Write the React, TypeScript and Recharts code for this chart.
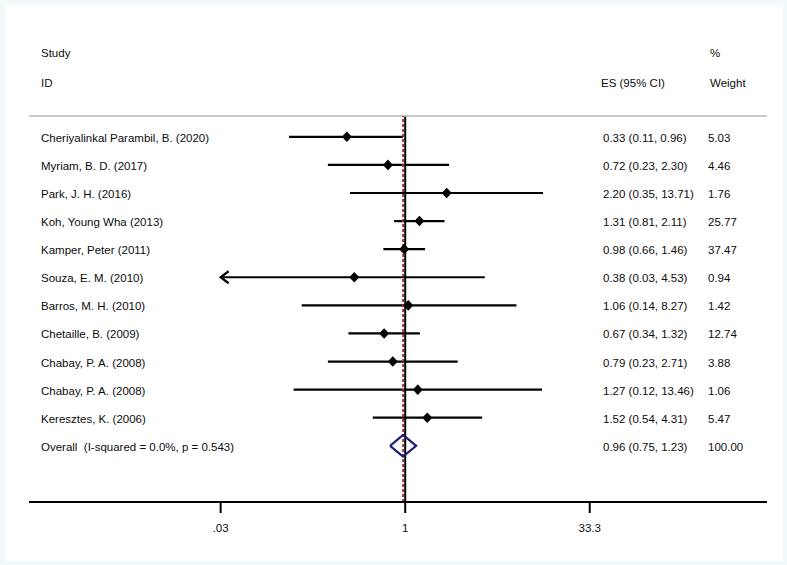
import React from 'react';
import { ComposedChart, XAxis, YAxis, Scatter, ReferenceLine } from 'recharts';

// ---------- data ----------
const studies = [
  'Cheriyalinkal Parambil, B. (2020)',
  'Myriam, B. D. (2017)',
  'Park, J. H. (2016)',
  'Koh, Young Wha (2013)',
  'Kamper, Peter (2011)',
  'Souza, E. M. (2010)',
  'Barros, M. H. (2010)',
  'Chetaille, B. (2009)',
  'Chabay, P. A. (2008)',
  'Chabay, P. A. (2008)',
  'Keresztes, K. (2006)',
];
const es = [0.33, 0.72, 2.2, 1.31, 0.98, 0.38, 1.06, 0.67, 0.79, 1.27, 1.52];
const lower = [0.11, 0.23, 0.35, 0.81, 0.66, 0.03, 0.14, 0.34, 0.23, 0.12, 0.54];
const upper = [0.96, 2.3, 13.71, 2.11, 1.46, 4.53, 8.27, 1.32, 2.71, 13.46, 4.31];
const weights = [5.03, 4.46, 1.76, 25.77, 37.47, 0.94, 1.42, 12.74, 3.88, 1.06, 5.47];

const overallLabel = 'Overall  (I-squared = 0.0%, p = 0.543)';
const overallES = 0.96;
const overallLower = 0.75;
const overallUpper = 1.23;
const overallWeight = 100.0;

const xTicks = [0.03, 1, 33.3];
const xTickLabels = ['.03', '1', '33.3'];

// ---------- styling constants ----------
const FONT = '"Liberation Sans", Arial, Helvetica, sans-serif';
const FS = 11.5;
const TXT = '#0d0d0d';
const W = 787;
const H = 565;
const DIAMOND_HALF_ROWS = 0.385;

// ---------- derived tables ----------
const fmt = (v: number) => v.toFixed(2);

type Row = {
  x: number;
  y: number;
  lo: number;
  hi: number;
  label: string;
  esText: string;
  wText: string;
  kind: 'study' | 'overall';
};

const studyRows: Row[] = studies.map((s, i) => ({
  x: es[i],
  y: i,
  lo: lower[i],
  hi: upper[i],
  label: s,
  esText: `${fmt(es[i])} (${fmt(lower[i])}, ${fmt(upper[i])})`,
  wText: fmt(weights[i]),
  kind: 'study',
}));

const overallRow: Row = {
  x: overallES,
  y: studies.length,
  lo: overallLower,
  hi: overallUpper,
  label: overallLabel,
  esText: `${fmt(overallES)} (${fmt(overallLower)}, ${fmt(overallUpper)})`,
  wText: fmt(overallWeight),
  kind: 'overall',
};

const allRows = [...studyRows, overallRow];

const overallDiamond = [
  { x: overallLower, y: overallRow.y },
  { x: overallES, y: overallRow.y - DIAMOND_HALF_ROWS },
  { x: overallUpper, y: overallRow.y },
  { x: overallES, y: overallRow.y + DIAMOND_HALF_ROWS },
  { x: overallLower, y: overallRow.y },
];

const arrowRows = studyRows
  .filter((r) => r.lo <= xTicks[0])
  .map((r) => ({ x: xTicks[0], y: r.y }));

// ---------- shapes ----------
const textStyle: React.CSSProperties = { whiteSpace: 'pre' };

const RowShape = (props: any) => {
  const { cx, cy, payload } = props;
  const p: Row = payload;
  const d = 5;
  return (
    <g>
      {p.kind === 'study' && (
        <polygon
          points={`${cx - d},${cy} ${cx},${cy - d - 0.3} ${cx + d},${cy} ${cx},${cy + d + 0.3}`}
          fill="#000"
        />
      )}
      <text x={41} y={cy + 1} fontFamily={FONT} fontSize={FS} fill={TXT} dominantBaseline="central" style={textStyle}>
        {p.label}
      </text>
      <text x={603} y={cy + 1} fontFamily={FONT} fontSize={FS} fill={TXT} dominantBaseline="central" style={textStyle}>
        {p.esText}
      </text>
      <text x={708} y={cy + 1} fontFamily={FONT} fontSize={FS} fill={TXT} dominantBaseline="central" style={textStyle}>
        {p.wText}
      </text>
    </g>
  );
};

const ArrowShape = (props: any) => {
  const { cx, cy } = props;
  return (
    <polyline
      points={`${cx + 8},${cy - 6} ${cx},${cy} ${cx + 8},${cy + 6}`}
      fill="none"
      stroke="#000"
      strokeWidth={2.2}
    />
  );
};

const NoShape = () => <g />;

const XTick = (props: any) => {
  const { x, y, payload, index } = props;
  const label = xTickLabels[xTicks.indexOf(payload.value)] ?? xTickLabels[index];
  return (
    <text x={x} y={y} textAnchor="middle" fontFamily={FONT} fontSize={FS} fill={TXT} dominantBaseline="central">
      {label}
    </text>
  );
};

export default function App() {
  return (
    <div style={{ position: 'relative', width: W, height: H, background: '#f1f9fb' }}>
      <style>{`body{margin:0;}`}</style>
      <div
        style={{
          position: 'absolute',
          left: 5,
          top: 5,
          width: W - 9,
          height: H - 9,
          background: '#ffffff',
        }}
      />
      <div style={{ position: 'absolute', left: 0, top: 0 }}>
        <ComposedChart
          width={W}
          height={H}
          margin={{ top: 116, right: 20, bottom: 23, left: 29 }}
        >
          <XAxis
            type="number"
            dataKey="x"
            scale="log"
            domain={[0.000787, 966]}
            allowDataOverflow
            ticks={xTicks}
            interval={0}
            height={40}
            tickSize={11}
            tick={(p: any) => {
              const { x, y, payload, index } = p;
              return <XTick x={x} y={y + 13} payload={payload} index={index} />;
            }}
            axisLine={{ stroke: '#000', strokeWidth: 2 }}
            tickLine={{ stroke: '#000', strokeWidth: 2 }}
          />
          <YAxis type="number" dataKey="y" hide domain={[-0.74, 13]} reversed allowDataOverflow />

          <ReferenceLine x={1} stroke="#000" strokeWidth={2} ifOverflow="visible" />
          <ReferenceLine y={-0.74} stroke="#b8b8b8" strokeWidth={1.6} ifOverflow="visible" />

          {studyRows.map((r, i) => (
            <ReferenceLine
              key={`ci-${i}`}
              segment={[
                { x: Math.max(r.lo, xTicks[0]), y: r.y },
                { x: r.hi, y: r.y },
              ]}
              stroke="#000"
              strokeWidth={2.2}
              ifOverflow="visible"
            />
          ))}

          <ReferenceLine
            x={overallES}
            stroke="#9c2f2f"
            strokeWidth={1.8}
            strokeDasharray="3 2"
            ifOverflow="visible"
          />

          <Scatter
            data={overallDiamond}
            shape={NoShape}
            line={{ stroke: '#1c1f78', strokeWidth: 2.2 }}
            lineType="joint"
            isAnimationActive={false}
          />
          <Scatter data={arrowRows} shape={ArrowShape} isAnimationActive={false} />
          <Scatter data={allRows} shape={RowShape} isAnimationActive={false} />
        </ComposedChart>
      </div>
      <svg
        width={W}
        height={H}
        style={{ position: 'absolute', left: 0, top: 0, pointerEvents: 'none' }}
      >
        <text x={41} y={53} fontFamily={FONT} fontSize={FS} fill={TXT} dominantBaseline="central">Study</text>
        <text x={41} y={83} fontFamily={FONT} fontSize={FS} fill={TXT} dominantBaseline="central">ID</text>
        <text x={601} y={83} fontFamily={FONT} fontSize={FS} fill={TXT} dominantBaseline="central">ES (95% CI)</text>
        <text x={710} y={53} fontFamily={FONT} fontSize={FS} fill={TXT} dominantBaseline="central">%</text>
        <text x={710} y={83} fontFamily={FONT} fontSize={FS} fill={TXT} dominantBaseline="central">Weight</text>
      </svg>
    </div>
  );
}
